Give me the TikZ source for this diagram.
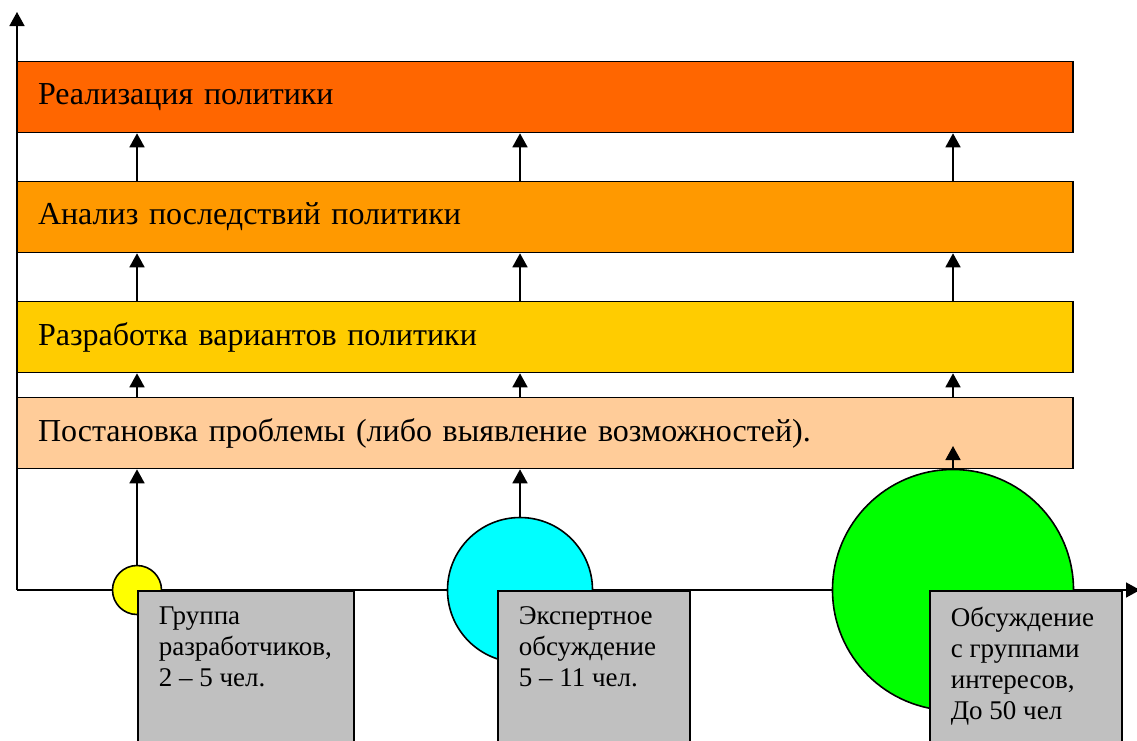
\documentclass[tikz,border=0pt]{standalone}
\usepackage{fontspec}
\setmainfont{Liberation Serif}
\usetikzlibrary{arrows.meta,positioning}

\definecolor{realcol}{HTML}{FF6600}
\definecolor{analcol}{HTML}{FF9900}
\definecolor{optcol}{HTML}{FFCC00}
\definecolor{probcol}{HTML}{FFCC99}
\definecolor{notecol}{HTML}{C0C0C0}
\definecolor{smallcol}{HTML}{FFFF00}
\definecolor{midcol}{HTML}{00FFFF}
\definecolor{bigcol}{HTML}{00FF00}

\newcommand{\notetext}[2][150pt]{\parbox[t][120pt][t]{#1}{\raggedright #2}}

\begin{document}
\begin{tikzpicture}[x=1pt,y=-1pt,node distance=120pt,on grid,
    stage/.style={draw,line width=1.6pt,minimum height=71pt,inner xsep=21pt,
      text width=1014pt,align=left,font=\fontsize{32}{38}\selectfont},
    crowd/.style={circle,draw,line width=1.6pt,inner sep=0pt},
    note/.style={draw,line width=1.6pt,fill=notecol,anchor=north west,
      inner xsep=21pt,inner ysep=16pt,font=\fontsize{27}{31}\selectfont},
    up/.style={-{Triangle[width=15pt,length=14pt]},line width=1.6pt}]
   \clip (0,0) rectangle (1137,740);
   % axes
   \coordinate (o) at (17,590);
   \coordinate (ytop) at (17,12);
   \coordinate (xend) at (1140,590);
   \draw[up] (o) -- (ytop);
   \draw[up] (o) -- (xend);
   % stages
   \node[stage,fill=realcol] (realize) at (545,97) {Реализация политики};
   \node[stage,fill=analcol] (analysis) [below=of realize] {Анализ последствий политики};
   \node[stage,fill=optcol] (options) [below=of analysis] {Разработка вариантов политики};
   \node[stage,fill=probcol] (problem) [below=96pt of options] {Постановка проблемы (либо выявление возможностей).};
   % groups
   \node[crowd,fill=smallcol,minimum size=49pt] (small) at (137,590) {};
   \node[crowd,fill=midcol,minimum size=145pt] (mid) at (520,590) {};
   \node[crowd,fill=bigcol,minimum size=241pt] (big) at (953,590) {};
   \coordinate (bigtip) at (953,446);
   \node[note,minimum width=216pt] (smallnote) at (small.center) {\notetext[174pt]{Группа\\разработчиков,\\2 – 5 чел.}};
   \node[note,minimum width=192pt] (midnote) at (497,590) {\notetext{Экспертное\\обсуждение\\5 – 11 чел.}};
   \node[note,minimum width=192pt] (bignote) at (929,590) {\notetext{Обсуждение\\с группами\\интересов,\\До 50 чел}};
   \foreach \c in {small,mid,big} {
     \draw[up] (analysis.north -| \c) -- (realize.south -| \c);
     \draw[up] (options.north -| \c) -- (analysis.south -| \c);
     \draw[up] (problem.north -| \c) -- (options.south -| \c);
   }
   \draw[up] (small.north) -- (problem.south -| small);
   \draw[up] (mid.north) -- (problem.south -| mid);
   \draw[up] (big.north) -- (bigtip);
\end{tikzpicture}
\end{document}
